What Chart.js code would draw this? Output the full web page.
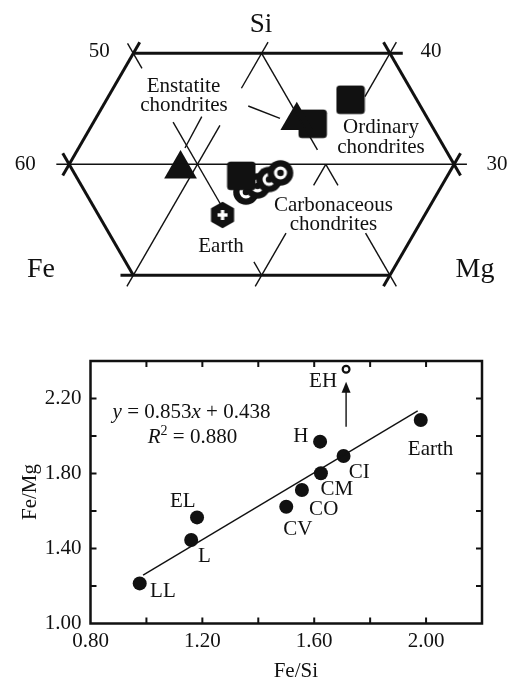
<!DOCTYPE html>
<html>
<head>
<meta charset="utf-8">
<script src="https://cdn.jsdelivr.net/npm/chart.js@4.4.1/dist/chart.umd.min.js"></script>
<style>
  html, body { margin: 0; padding: 0; background: #fff; }
  canvas { display: block; }
</style>
</head>
<body>
<canvas id="ternary" width="513" height="300"></canvas>
<canvas id="ratios" width="513" height="381"></canvas>
<script>
// ====== DATA ======
// lower plot: Fe/Si vs Fe/Mg (atomic ratios)
const groups = ["LL", "L", "EL", "CV", "CO", "CM", "H", "CI", "Earth"];
const feSi   = [0.976, 1.160, 1.181, 1.500, 1.556, 1.624, 1.621, 1.705, 1.981];
const feMg   = [1.214, 1.445, 1.566, 1.623, 1.712, 1.801, 1.970, 1.893, 2.085];
// EH is drawn as an open circle with an arrow (off the trend)
const ehFeSi = 1.714;
const ehFeMg = 2.356;
const ehArrowY = [2.049, 2.289];
// fitted line as drawn
const fitX = [0.988, 1.970];
const fitY = [1.258, 2.134];
const xTicks = [0.80, 1.20, 1.60, 2.00];
const yTicks = [1.00, 1.40, 1.80, 2.20];
const xMarks = [1.0, 1.2, 1.4, 1.6, 1.8, 2.0];
const yMarks = [1.2, 1.4, 1.6, 1.8, 2.0, 2.2];

// upper plot: ternary Fe-Si-Mg (atom %), given as Si and Mg (Fe = 100 - Si - Mg)
const ecSi = [29.58, 33.94];                 // EH, EL
const ecMg = [18.89, 25.77];
const ocSi = [35.82, 33.65, 28.96];          // LL, L, H
const ocMg = [29.02, 27.15, 23.94];
const ccSi = [27.50, 28.05, 28.63, 29.22];   // CI, CM, CO, CV
const ccMg = [25.03, 25.65, 26.26, 26.86];
const earthSi = [25.43];
const earthMg = [24.24];
const feTicks = [50, 60];
const siTicks = [40, 30];
const mgTicks = [20, 30, 40];

// grid: [constant component, value, run from, run to]
// run is Mg for Si-lines, Si for Fe- and Mg-lines
const edgeLines = [
  ["Si", 40, 10, 31], ["Si", 20, 19, 40],
  ["Fe", 60, 31, 20], ["Fe", 30, 41, 29],
  ["Mg", 10, 29, 41], ["Mg", 40, 19, 31]
];
const gridLines = [
  ["Si", 30, 9, 41],
  ["Fe", 50, 40.9, 38.65], ["Fe", 50, 33.8, 26.4], ["Fe", 50, 21.2, 20],
  ["Fe", 40, 40, 31.3], ["Fe", 40, 30, 28.1], ["Fe", 40, 23.8, 19],
  ["Mg", 20, 19, 33.5], ["Mg", 20, 36.85, 41],
  ["Mg", 30, 19, 23.8], ["Mg", 30, 28.1, 30], ["Mg", 30, 36.1, 41]
];
// label leaders, [[Si, Mg], [Si, Mg]]
const leaders = [
  [[34.29, 18.19], [31.47, 18.29]],
  [[35.25, 21.33], [34.14, 24.36]]
];

// ====== STYLE ======
const SERIF = '"Liberation Serif", "Times New Roman", serif';
const INK = "#111";

// ====== HELPERS ======
const tern = (si, mg) => ({ x: mg + si / 2, y: si * Math.sqrt(3) / 2 });

function linePts(kind, v, a, b) {
  if (kind === "Si") return [tern(v, a), tern(v, b)];
  if (kind === "Fe") return [tern(a, 100 - v - a), tern(b, 100 - v - b)];
  return [tern(a, v), tern(b, v)];
}

const lineSet = (pts, w) => ({
  data: pts, showLine: true, borderColor: INK, borderWidth: w,
  pointRadius: 0, borderCapStyle: "butt", clip: false
});

function symbol(size, paint) {
  const c = document.createElement("canvas");
  c.width = size; c.height = size;
  const g = c.getContext("2d");
  g.translate(size / 2, size / 2);
  paint(g);
  return c;
}

const squareMark = symbol(30, g => {
  g.fillStyle = INK;
  g.beginPath();
  g.roundRect(-14.2, -14.2, 28.4, 28.4, 3.5);
  g.fill();
});

const ringMark = symbol(28, g => {
  g.fillStyle = INK;
  g.beginPath(); g.arc(0, 0, 12.8, 0, Math.PI * 2); g.fill();
  g.strokeStyle = "#fff"; g.lineWidth = 3.2;
  g.beginPath(); g.arc(0, 0, 4.9, 0, Math.PI * 2); g.stroke();
});

const earthMark = symbol(30, g => {
  g.fillStyle = INK; g.strokeStyle = INK;
  g.lineWidth = 2; g.lineJoin = "round";
  g.beginPath();
  for (let k = 0; k < 6; k++) {
    const a = Math.PI / 2 + k * Math.PI / 3;
    const px = 12.2 * Math.cos(a), py = 12.2 * Math.sin(a);
    k ? g.lineTo(px, py) : g.moveTo(px, py);
  }
  g.closePath(); g.fill(); g.stroke();
  g.fillStyle = "#fff";
  g.fillRect(-5, -1.7, 10, 3.4);
  g.fillRect(-1.7, -5, 3.4, 10);
});

function text(ctx, str, x, y, size, align, style) {
  ctx.font = (style || "") + " " + size + "px " + SERIF;
  ctx.textAlign = align || "center";
  ctx.textBaseline = "alphabetic";
  ctx.fillText(str, x, y);
}

// ====== TERNARY ======
const ternText = {
  id: "ternText",
  afterDatasetsDraw(chart) {
    const { ctx, scales: { x, y } } = chart;
    const px = p => [x.getPixelForValue(p.x), y.getPixelForValue(p.y)];
    ctx.save();
    ctx.fillStyle = INK;

    const feDx = [-34, -44], feDy = [3.4, 5.7];
    feTicks.forEach((v, i) => {
      const [a, b] = px(tern(90 - v, 10));
      text(ctx, String(v), a + feDx[i], b + feDy[i], 21);
    });
    const siDx = [41, 43], siDy = [3.4, 5.7];
    siTicks.forEach((v, i) => {
      const [a, b] = px(tern(v, 70 - v));
      text(ctx, String(v), a + siDx[i], b + siDy[i], 21);
    });
    mgTicks.forEach(v => {
      const [a, b] = px(tern(20, v));
      text(ctx, String(v), a, b + 39.5, 21);
    });

    text(ctx, "Si", 261, 31.7, 27);
    text(ctx, "Fe", 41, 276.7, 28);
    text(ctx, "Mg", 475, 276.7, 28);

    text(ctx, "Enstatite", 183.5, 91.7, 21);
    text(ctx, "chondrites", 184, 110.5, 21);
    text(ctx, "Ordinary", 381, 133.3, 21);
    text(ctx, "chondrites", 381, 153, 21);
    text(ctx, "Carbonaceous", 333.5, 210.7, 21);
    text(ctx, "chondrites", 333.5, 230, 21);
    text(ctx, "Earth", 221, 252.3, 21);
    ctx.restore();
  }
};

const ternSets = [];
edgeLines.forEach(l => ternSets.push(lineSet(linePts(...l), 3)));
gridLines.forEach(l => ternSets.push(lineSet(linePts(...l), 1.4)));
leaders.forEach(l => ternSets.push(lineSet(l.map(p => tern(p[0], p[1])), 1.4)));
ternSets.push({
  data: ecSi.map((s, i) => tern(s, ecMg[i])),
  pointStyle: "triangle", pointRadius: 18.9, backgroundColor: INK, borderWidth: 0
});
ternSets.push({
  data: ocSi.map((s, i) => tern(s, ocMg[i])),
  pointStyle: squareMark, pointRadius: 10
});
ternSets.push({
  data: ccSi.map((s, i) => tern(s, ccMg[i])),
  pointStyle: ringMark, pointRadius: 10
});
ternSets.push({
  data: earthSi.map((s, i) => tern(s, earthMg[i])),
  pointStyle: earthMark, pointRadius: 10
});

new Chart(document.getElementById("ternary"), {
  type: "scatter",
  data: { datasets: ternSets },
  options: {
    responsive: false, animation: false, events: [],
    layout: { padding: 0, autoPadding: false },
    plugins: { legend: { display: false }, tooltip: { enabled: false } },
    scales: {
      x: { type: "linear", display: false, min: 19.61, max: 59.59 },
      y: { type: "linear", display: false, min: 15.39, max: 38.80 }
    }
  },
  plugins: [ternText]
});

// ====== RATIO PLOT ======
const labelDx = [23.2, 13.3, -14.2, 11.5, 21.8, 16, -19.2, 15.7, 9.8];
const labelDy = [13.7, 22, -10.3, 28.3, 25, 21.7, 0.3, 22, 35];

function runs(ctx, parts, cx, base) {
  const fontOf = p => (p.italic ? "italic " : "") + (p.sup ? 14 : 21) + "px " + SERIF;
  let w = 0;
  parts.forEach(p => { ctx.font = fontOf(p); w += ctx.measureText(p.t).width; });
  let xx = cx - w / 2;
  ctx.textAlign = "left";
  ctx.textBaseline = "alphabetic";
  parts.forEach(p => {
    ctx.font = fontOf(p);
    ctx.fillText(p.t, xx, base - (p.sup ? 8 : 0));
    xx += ctx.measureText(p.t).width;
  });
}

const ratioDecor = {
  id: "ratioDecor",
  afterDatasetsDraw(chart) {
    const { ctx, chartArea: a, scales: { x, y } } = chart;
    ctx.save();
    ctx.strokeStyle = INK; ctx.fillStyle = INK;

    // frame + inward ticks
    ctx.lineWidth = 2.5;
    ctx.strokeRect(a.left, a.top, a.right - a.left, a.bottom - a.top);
    ctx.lineWidth = 2;
    ctx.beginPath();
    xMarks.forEach(v => {
      const p = x.getPixelForValue(v);
      ctx.moveTo(p, a.bottom); ctx.lineTo(p, a.bottom - 6);
      ctx.moveTo(p, a.top); ctx.lineTo(p, a.top + 6);
    });
    yMarks.forEach(v => {
      const p = y.getPixelForValue(v);
      ctx.moveTo(a.left, p); ctx.lineTo(a.left + 6, p);
      ctx.moveTo(a.right, p); ctx.lineTo(a.right - 6, p);
    });
    ctx.stroke();

    // arrow head for EH
    const ax = x.getPixelForValue(ehFeSi);
    const ay = y.getPixelForValue(ehArrowY[1]);
    ctx.beginPath();
    ctx.moveTo(ax, ay); ctx.lineTo(ax - 4.5, ay + 11); ctx.lineTo(ax + 4.5, ay + 11);
    ctx.closePath(); ctx.fill();

    // point labels
    groups.forEach((g, i) => {
      text(ctx, g, x.getPixelForValue(feSi[i]) + labelDx[i], y.getPixelForValue(feMg[i]) + labelDy[i], 21);
    });
    text(ctx, "EH", x.getPixelForValue(ehFeSi) - 23, y.getPixelForValue(ehFeMg) + 17.7, 21);

    // regression text
    runs(ctx, [{ t: "y", italic: true }, { t: " = 0.853" }, { t: "x", italic: true }, { t: " + 0.438" }], 191.5, 118.3);
    runs(ctx, [{ t: "R", italic: true }, { t: "2", sup: true }, { t: " = 0.880" }], 192.5, 143.3);

    // axis titles
    text(ctx, "Fe/Si", 295.8, 376.7, 21);
    ctx.translate(36, 192);
    ctx.rotate(-Math.PI / 2);
    text(ctx, "Fe/Mg", 0, 0, 21);
    ctx.restore();
  }
};

const tickFont = { family: SERIF, size: 21 };

new Chart(document.getElementById("ratios"), {
  type: "scatter",
  data: {
    datasets: [
      {
        data: fitX.map((v, i) => ({ x: v, y: fitY[i] })),
        showLine: true, borderColor: INK, borderWidth: 1.4, pointRadius: 0
      },
      {
        data: ehArrowY.map(v => ({ x: ehFeSi, y: v - (v === ehArrowY[1] ? 0.03 : 0) })),
        showLine: true, borderColor: INK, borderWidth: 1.4, pointRadius: 0
      },
      {
        data: feSi.map((v, i) => ({ x: v, y: feMg[i] })),
        pointRadius: 7, backgroundColor: INK, borderWidth: 0
      },
      {
        data: [{ x: ehFeSi, y: ehFeMg }],
        pointRadius: 3.4, backgroundColor: "#fff", borderColor: INK, borderWidth: 2.2
      }
    ]
  },
  options: {
    responsive: false, animation: false, events: [],
    layout: { padding: { top: 61, right: 31, left: 0, bottom: 0 }, autoPadding: false },
    plugins: { legend: { display: false }, tooltip: { enabled: false } },
    scales: {
      x: {
        type: "linear", min: 0.8, max: 2.2,
        grid: { display: false, drawTicks: false }, border: { display: false },
        afterBuildTicks: s => { s.ticks = xTicks.map(v => ({ value: v })); },
        ticks: { callback: v => v.toFixed(2), font: tickFont, color: INK, padding: 5, maxRotation: 0, autoSkip: false },
        afterFit: s => { s.height = 57.5; }
      },
      y: {
        type: "linear", min: 1.0, max: 2.4,
        grid: { display: false, drawTicks: false }, border: { display: false },
        afterBuildTicks: s => { s.ticks = yTicks.map(v => ({ value: v })); },
        ticks: { callback: v => v.toFixed(2), font: tickFont, color: INK, padding: 9, autoSkip: false },
        afterFit: s => { s.width = 90.5; }
      }
    }
  },
  plugins: [ratioDecor]
});
</script>
</body>
</html>
